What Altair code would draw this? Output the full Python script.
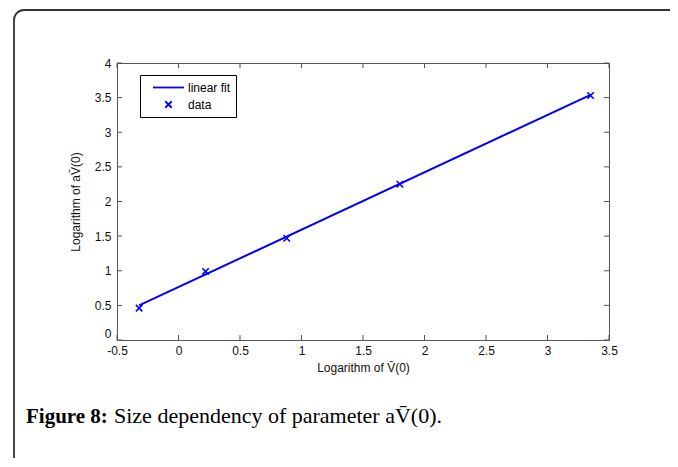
import altair as alt
import pandas as pd

# data
data_x = [-0.32, 0.22, 0.88, 1.80, 3.35]
data_y = [0.46, 0.99, 1.47, 2.25, 3.53]
fit_x = [-0.32, 3.35]
fit_y = [0.50, 3.54]
x_ticks = [-0.5, 0, 0.5, 1, 1.5, 2, 2.5, 3, 3.5]
y_ticks = [0, 0.5, 1, 1.5, 2, 2.5, 3, 3.5, 4]
series = ["linear fit", "data"]

W, H = 492, 277
BLUE = "#0000ff"
TICK = "#555555"

pts = pd.DataFrame({"x": data_x, "y": data_y, "series": "data"})
fit = pd.DataFrame({"x": fit_x, "y": fit_y})
xt = pd.DataFrame({"x": x_ticks})
yt = pd.DataFrame({"y": y_ticks})
one = pd.DataFrame({"k": [0]})

xscale = alt.Scale(domain=[-0.5, 3.5], nice=False, zero=False)
yscale = alt.Scale(domain=[0, 4], nice=False, zero=False)

xaxis = alt.Axis(values=x_ticks, title="Logarithm of  V̄(0)", ticks=False, domain=False,
                 grid=False, labelPadding=5, titlePadding=6, labelFlush=False,
                 labelExpr="toString(datum.value)")
yaxis = alt.Axis(values=y_ticks, title="Logarithm of  aV̄(0)", ticks=False, domain=False,
                 grid=False, labelPadding=6, titlePadding=12, labelFlush=False,
                 labelExpr="toString(datum.value)",
                 labelBaseline={"condition": {"test": "datum.value == 0", "value": "bottom"},
                                "value": "middle"})

leg = dict(title=None, orient="none", legendX=23, legendY=12,
           strokeColor="#000000", fillColor="white", padding=5, clipHeight=15,
           labelFontSize=12, labelFont="Liberation Sans", labelColor="#000",
           labelOffset=3, symbolOffset=7, rowPadding=2,
           symbolStrokeColor=BLUE, symbolFillColor="transparent", symbolStrokeWidth=1.8)

line = alt.Chart(fit).mark_line(color=BLUE, strokeWidth=2).encode(
    x=alt.X("x:Q", scale=xscale, axis=xaxis),
    y=alt.Y("y:Q", scale=yscale, axis=yaxis),
)

points = alt.Chart(pts).mark_point(color=BLUE, filled=False, strokeWidth=1.6, opacity=1).encode(
    x=alt.X("x:Q", scale=xscale, axis=xaxis),
    y=alt.Y("y:Q", scale=yscale, axis=yaxis),
    shape=alt.Shape("series:N", scale=alt.Scale(domain=series,
                    range=["M-1,0L1,0", "M-1,-1L1,1M-1,1L1,-1"]),
                    legend=alt.Legend(**leg)),
    size=alt.Size("series:O", scale=alt.Scale(domain=series, range=[961, 42]),
                  legend=alt.Legend(**leg)),
)

tick_bottom = alt.Chart(xt).mark_rule(color=TICK, strokeWidth=1).encode(
    x=alt.X("x:Q", scale=xscale, axis=xaxis), y=alt.value(H), y2=alt.value(H - 5))
tick_top = alt.Chart(xt).mark_rule(color=TICK, strokeWidth=1).encode(
    x=alt.X("x:Q", scale=xscale, axis=xaxis), y=alt.value(0), y2=alt.value(5))
tick_left = alt.Chart(yt).mark_rule(color=TICK, strokeWidth=1).encode(
    y=alt.Y("y:Q", scale=yscale, axis=yaxis), x=alt.value(0), x2=alt.value(5))
tick_right = alt.Chart(yt).mark_rule(color=TICK, strokeWidth=1).encode(
    y=alt.Y("y:Q", scale=yscale, axis=yaxis), x=alt.value(W), x2=alt.value(W - 5))

frame = alt.Chart(one).mark_rect(fill=None, stroke="#333333", strokeWidth=1.8,
                                 cornerRadius=10).encode(
    x=alt.value(-103), y=alt.value(-53), x2=alt.value(700), y2=alt.value(520))

cap_bold = alt.Chart(one).mark_text(text="Figure 8:", font="Liberation Serif", fontSize=21,
                                    fontWeight="bold", align="left", baseline="alphabetic",
                                    color="#000").encode(x=alt.value(-91), y=alt.value(360))
cap_rest = alt.Chart(one).mark_text(text="Size dependency of parameter aV̄(0).",
                                    font="Liberation Serif", fontSize=22, align="left",
                                    baseline="alphabetic", color="#000").encode(
    x=alt.value(-3), y=alt.value(360))

chart = alt.layer(frame, line, points, tick_bottom, tick_top, tick_left, tick_right,
                  cap_bold, cap_rest).properties(
    width=W, height=H,
    background="white",
    autosize=alt.AutoSizeParams(type="none"),
    padding={"left": 109, "top": 55, "right": 61, "bottom": 118},
).configure_view(stroke="#555555", strokeWidth=1).configure_axis(
    labelFont="Liberation Sans", labelFontSize=12, labelColor="#111",
    titleFont="Liberation Sans", titleFontSize=12, titleFontWeight="normal", titleColor="#111",
)

chart.save("out.html", embed_options={"renderer": "svg", "actions": False})
